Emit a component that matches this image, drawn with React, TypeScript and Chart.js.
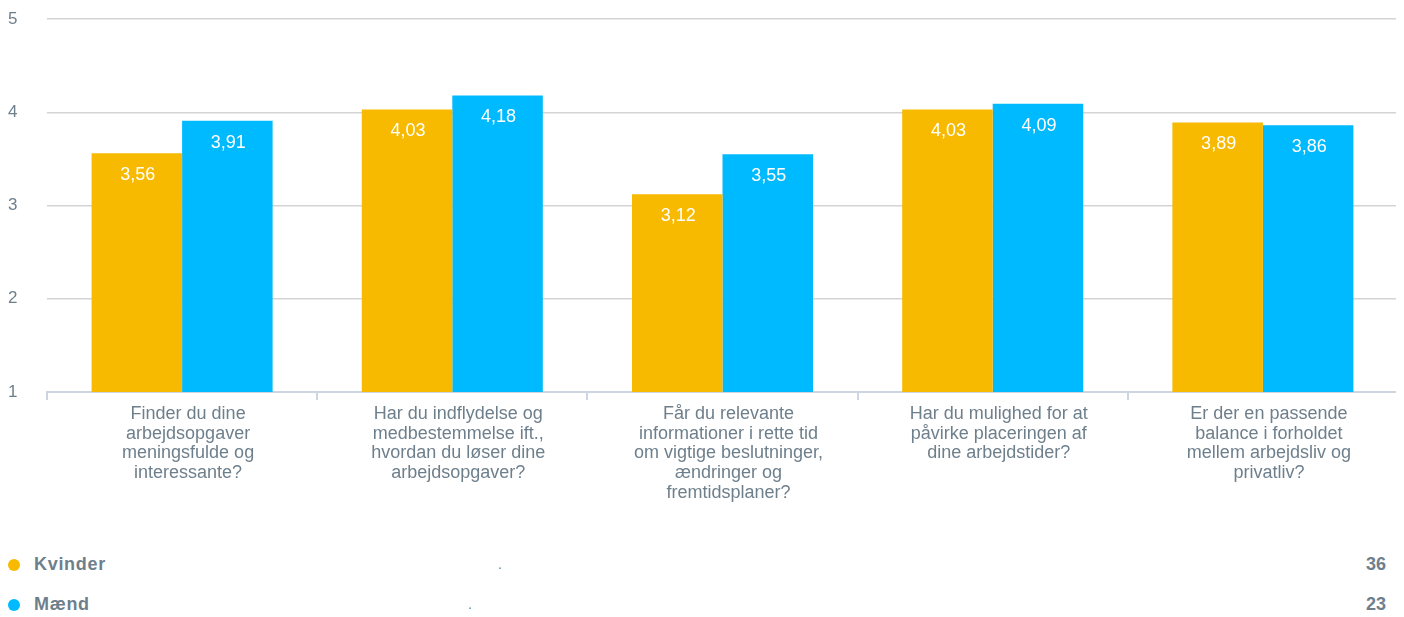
import React, { useEffect, useRef } from "react";
import { Chart, registerables } from "chart.js";

Chart.register(...registerables);

const categories: string[][] = [
  ["Finder du dine", "arbejdsopgaver", "meningsfulde og", "interessante?"],
  ["Har du indflydelse og", "medbestemmelse ift.,", "hvordan du løser dine", "arbejdsopgaver?"],
  ["Får du relevante", "informationer i rette tid", "om vigtige beslutninger,", "ændringer og", "fremtidsplaner?"],
  ["Har du mulighed for at", "påvirke placeringen af", "dine arbejdstider?"],
  ["Er der en passende", "balance i forholdet", "mellem arbejdsliv og", "privatliv?"],
];
const kvinder = [3.56, 4.03, 3.12, 4.03, 3.89];
const maend = [3.91, 4.18, 3.55, 4.09, 3.86];
const seriesNames = ["Kvinder", "Mænd"];
const seriesCounts = [36, 23];
const seriesColors = ["#F7BA00", "#00BAFF"];
const yTicks = [1, 2, 3, 4, 5];

const FONT = "'Liberation Sans', Arial, Helvetica, sans-serif";
const TEXT = "#6E7F8C";

const valueLabels = {
  id: "valueLabels",
  afterDatasetsDraw(chart: any) {
    const ctx = chart.ctx;
    ctx.save();
    ctx.fillStyle = "#ffffff";
    ctx.font = `18px ${FONT}`;
    ctx.textAlign = "center";
    ctx.textBaseline = "middle";
    chart.data.datasets.forEach((ds: any, i: number) => {
      const meta = chart.getDatasetMeta(i);
      meta.data.forEach((bar: any, j: number) => {
        const v = ds.data[j] as number;
        ctx.fillText(v.toFixed(2).replace(".", ","), bar.x + 1, bar.y + 22);
      });
    });
    ctx.restore();
  },
};

export default function App() {
  const ref = useRef<HTMLCanvasElement | null>(null);
  useEffect(() => {
    if (!ref.current) return;
    const chart = new Chart(ref.current, {
      type: "bar",
      data: {
        labels: categories,
        datasets: [
          { label: seriesNames[0], data: kvinder, backgroundColor: seriesColors[0], categoryPercentage: 0.67, barPercentage: 1 },
          { label: seriesNames[1], data: maend, backgroundColor: seriesColors[1], categoryPercentage: 0.67, barPercentage: 1 },
        ],
      },
      options: {
        animation: false,
        responsive: false,
        layout: { padding: { top: 11, right: 0, left: 0, bottom: 0 } },
        plugins: { legend: { display: false }, tooltip: { enabled: false } },
        scales: {
          x: {
            grid: { offset: true, drawOnChartArea: false, tickLength: 8, color: "#CCD6E0", lineWidth: 2 },
            border: { color: "#CCD6E0", width: 2 },
            ticks: { color: TEXT, font: { family: FONT, size: 18, lineHeight: 1.1 }, maxRotation: 0, autoSkip: false, padding: 4, labelOffset: 6 },
          },
          y: {
            min: yTicks[0],
            max: yTicks[yTicks.length - 1],
            afterBuildTicks: (axis: any) => { axis.ticks = yTicks.map((v) => ({ value: v })); },
            grid: { color: "#D4D4D4", lineWidth: 1.5, drawTicks: false },
            border: { display: false },
            afterFit: (axis: any) => { axis.width = 39; },
            ticks: { color: TEXT, font: { family: FONT, size: 17 }, crossAlign: "far", padding: 0 },
          },
        },
      },
      plugins: [valueLabels],
    });
    return () => chart.destroy();
  }, []);

  const row = (i: number, dotX: number) => (
    <div key={i} style={{ position: "relative", height: 40, fontFamily: FONT, fontWeight: "bold", fontSize: 18, color: TEXT }}>
      <span style={{ position: "absolute", left: 0, top: 14, width: 12, height: 12, borderRadius: 6, background: seriesColors[i] }} />
      <span style={{ position: "absolute", left: 26, top: 9, letterSpacing: "0.7px" }}>{seriesNames[i]}</span>
      <span style={{ position: "absolute", left: dotX, top: 11, fontWeight: "normal", fontSize: 14 }}>.</span>
      <span style={{ position: "absolute", right: 10, top: 9 }}>{seriesCounts[i]}</span>
    </div>
  );

  return (
    <div style={{ width: 1388 }}>
      <canvas ref={ref} width={1390} height={499} style={{ display: "block" }} />
      <div style={{ marginTop: 38 }}>
        {row(0, 490)}
        {row(1, 460)}
      </div>
    </div>
  );
}
